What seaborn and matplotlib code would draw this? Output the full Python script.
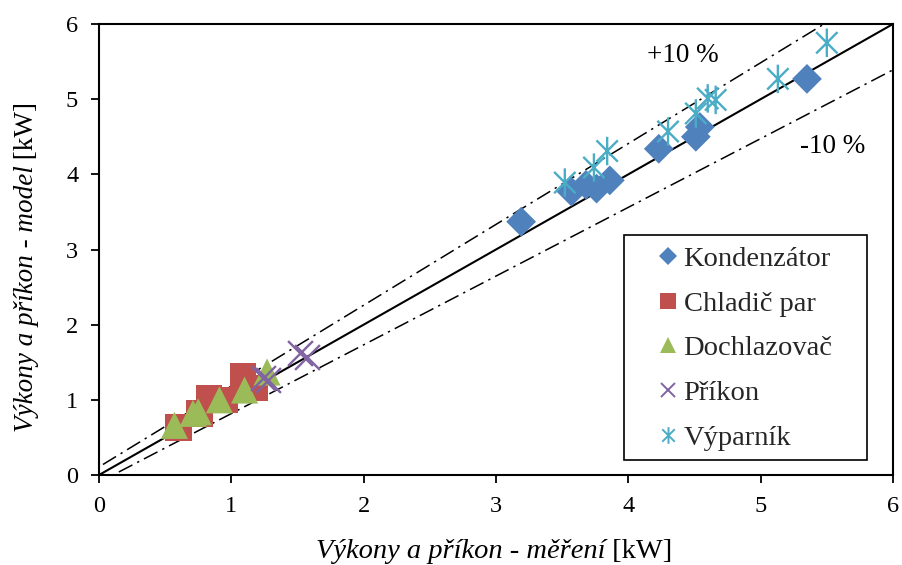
import matplotlib
matplotlib.use("Agg")
import matplotlib.pyplot as plt
import seaborn as sns
from matplotlib.lines import Line2D
from matplotlib.path import Path
from matplotlib.patches import Rectangle

# ---- data ----
kond_x = [3.19, 3.57, 3.68, 3.76, 3.86, 4.23, 4.51, 4.54, 5.35]
kond_y = [3.37, 3.77, 3.86, 3.81, 3.92, 4.34, 4.50, 4.63, 5.27]

chlad_x = [0.60, 0.76, 0.83, 0.95, 1.09, 1.18]
chlad_y = [0.63, 0.82, 1.02, 1.00, 1.31, 1.16]

dochl_x = [0.57, 0.71, 0.75, 0.91, 1.10, 1.27]
dochl_y = [0.66, 0.82, 0.84, 1.00, 1.13, 1.37]

prikon_x = [1.24, 1.28, 1.52, 1.57]
prikon_y = [1.29, 1.26, 1.62, 1.57]

vypar_x = [3.52, 3.74, 3.84, 4.30, 4.51, 4.60, 4.66, 5.13, 5.50]
vypar_y = [3.89, 4.09, 4.31, 4.57, 4.81, 5.01, 4.99, 5.27, 5.75]

diag_x = [0.0, 6.0]
diag_y = [0.0, 6.0]
plus10_x = [0.03, 6.0]
plus10_y = [0.14, 6.56]
minus10_x = [0.15, 6.0]
minus10_y = [0.04, 5.39]

ticks = [0, 1, 2, 3, 4, 5, 6]

labels = ["Kondenzátor", "Chladič par", "Dochlazovač", "Příkon", "Výparník"]
colors = ["#4F81BD", "#C0504D", "#9BBB59", "#8064A2", "#4BACC6"]

xlabel_it = "Výkony a příkon - měření"
ylabel_it = "Výkony a příkon - model"
unit = " [kW]"

# ---- style ----
sns.set_theme(style="white")
plt.rcParams["font.family"] = ["Liberation Serif", "DejaVu Serif"]

W, H = 903, 565
fig = plt.figure(figsize=(W/100, H/100), dpi=100)
ax = fig.add_axes([99/W, 1-475/H, (893-99)/W, (475-24)/H])

# reference lines
ls = (0, (10, 3.5, 1.5, 3.5))
sns.lineplot(x=diag_x, y=diag_y, ax=ax, color="black", lw=1.5, zorder=1)
sns.lineplot(x=plus10_x, y=plus10_y, ax=ax, color="black", lw=1.1,
             linestyle=ls, zorder=1)
sns.lineplot(x=minus10_x, y=minus10_y, ax=ax, color="black", lw=1.1,
             linestyle=ls, zorder=1)

star = Path([(0, -1), (0, 1), (-0.75, -0.75), (0.75, 0.75),
             (-0.75, 0.75), (0.75, -0.75)],
            [Path.MOVETO, Path.LINETO] * 3)

# filled series
for xs, ys, m, s, c in [(kond_x, kond_y, "D", 230, colors[0]),
                        (chlad_x, chlad_y, "s", 360, colors[1]),
                        (dochl_x, dochl_y, "^", 380, colors[2])]:
    sns.scatterplot(x=xs, y=ys, ax=ax, marker=m, s=s, color=c,
                    edgecolor="none", linewidth=0, zorder=3)
# line-art series
sns.scatterplot(x=prikon_x, y=prikon_y, ax=ax, marker="x", s=320,
                color=colors[3], linewidth=1.7, zorder=4)
sns.scatterplot(x=vypar_x, y=vypar_y, ax=ax, marker=star, s=420,
                facecolor="none", edgecolor=colors[4], linewidth=1.7, zorder=4)

handles = [
    Line2D([], [], marker="D", color=colors[0], linestyle="none",
           markersize=9, markeredgewidth=0),
    Line2D([], [], marker="s", color=colors[1], linestyle="none",
           markersize=11, markeredgewidth=0),
    Line2D([], [], marker="^", color=colors[2], linestyle="none",
           markersize=11, markeredgewidth=0),
    Line2D([], [], marker="x", color=colors[3], linestyle="none",
           markersize=10, markeredgewidth=1.4),
    Line2D([], [], marker=star, color=colors[4], linestyle="none",
           markerfacecolor="none", markersize=12, markeredgewidth=1.4),
]

ax.set_xlim(0, 6)
ax.set_ylim(0, 6)
ax.set_xticks(ticks)
ax.set_yticks(ticks)
ax.tick_params(axis="both", direction="out", length=6, width=1.3,
               labelsize=17.5, color="black", labelcolor="black",
               bottom=True, left=True, pad=9)
for sp in ax.spines.values():
    sp.set_color("black")
    sp.set_linewidth(1.5)

# axis labels: italic part + upright unit
r = fig.canvas.get_renderer()
FSX = 20.5
tx1 = fig.text(0, 0, xlabel_it, style="italic", fontsize=FSX, ha="left",
               va="baseline", color="black")
tx2 = fig.text(0, 0, unit, fontsize=FSX, ha="left", va="baseline", color="black")
w1 = tx1.get_window_extent(r).width
w2 = tx2.get_window_extent(r).width
x0 = 494 - (w1 + w2) / 2
tx1.set_position((x0 / W, 1 - 558 / H))
tx2.set_position(((x0 + w1) / W, 1 - 558 / H))

FSY = 19.5
ty1 = fig.text(0, 0, ylabel_it, style="italic", fontsize=FSY, rotation=90,
               rotation_mode="anchor", ha="left", va="baseline", color="black")
ty2 = fig.text(0, 0, unit, fontsize=FSY, rotation=90, rotation_mode="anchor",
               ha="left", va="baseline", color="black")
h1 = ty1.get_window_extent(r).height
h2 = ty2.get_window_extent(r).height
y0 = 267 + (h1 + h2) / 2
ty1.set_position((33 / W, 1 - y0 / H))
ty2.set_position((33 / W, 1 - (y0 - h1) / H))

ax.text(4.41, 5.58, "+10 %", fontsize=FSY, ha="center", va="center", color="black")
ax.text(5.54, 4.37, "-10 %", fontsize=FSY, ha="center", va="center", color="black")

# legend box drawn separately (Excel-like wide frame)
ax.add_patch(Rectangle((624/W, 1-460/H), (867-624)/W, (460-235)/H,
                       transform=fig.transFigure, facecolor="white",
                       edgecolor="black", linewidth=1.2, zorder=5,
                       clip_on=False))
leg = ax.legend(handles, labels, loc="upper left",
                bbox_to_anchor=(658/W, 1-246/H),
                bbox_transform=fig.transFigure,
                fontsize=20.5, frameon=False,
                handlelength=0.7, handletextpad=0.2, labelspacing=0.66,
                borderpad=0, borderaxespad=0)
leg.set_zorder(6)

fig.savefig("out.png", dpi=100)
